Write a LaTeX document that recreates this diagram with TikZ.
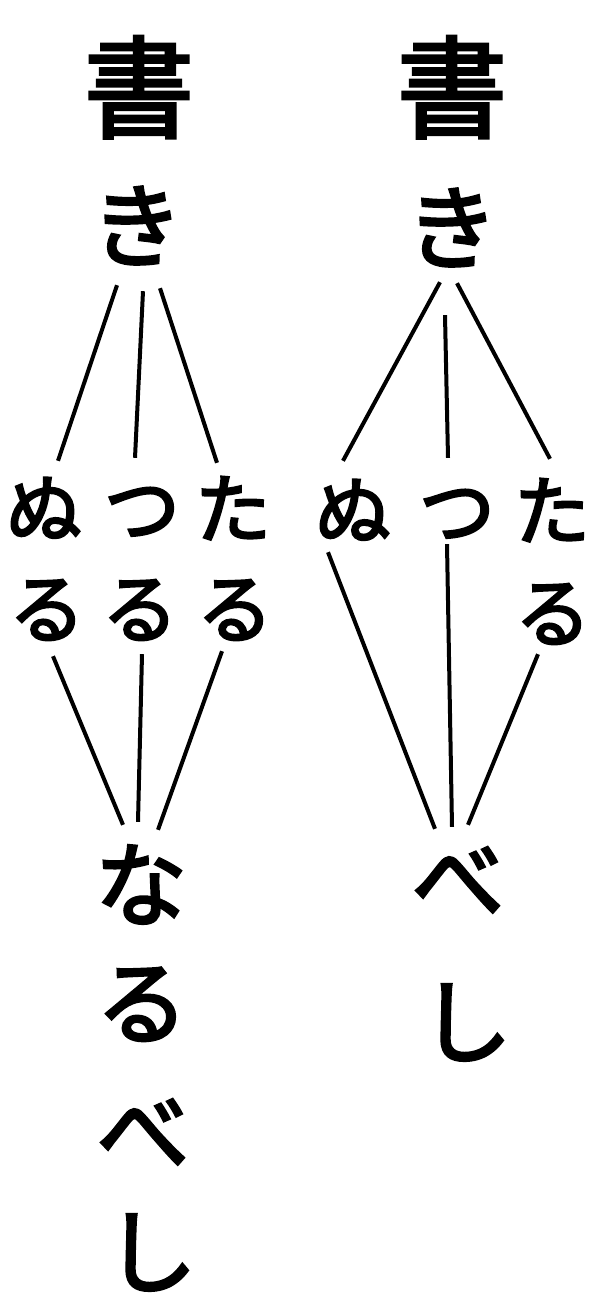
\documentclass[tikz,border=0pt]{standalone}
\usepackage{fontspec}
\newfontfamily\jpfont{Noto Sans CJK JP}

\begin{document}
\begin{tikzpicture}
	[
		x=1pt, y=-1pt,
		kanji/.style={font=\jpfont\addfontfeatures{FakeBold=3}\fontsize{110}{110}\selectfont, inner sep=0pt, text height=96pt, text depth=14pt},
		kana/.style={font=\jpfont\addfontfeatures{FakeBold=3}\fontsize{92}{92}\selectfont, inner sep=0pt, text height=80pt, text depth=12pt},
		branchkana/.style={font=\jpfont\addfontfeatures{FakeBold=3}\fontsize{76}{76}\selectfont, inner sep=0pt, text height=67pt, text depth=9pt},
		link/.style={line width=4pt}
	]
	\useasboundingbox (0,0) rectangle (606,1299);
	% Left column
	\node[kanji] (shoL) at (139,88) {書};
	\node[kana] (kiL) at (137,226) {き};
	\foreach \n/\x/\t in {nuL/44/ぬ, tsuL/142/つ, taL/233/た} {
			\node[branchkana] (\n) at (\x,508) {\t};
		}
	\foreach \n/\x in {ruLa/47, ruLb/140, ruLc/235} {
			\node[branchkana] (\n) at (\x,608) {る};
		}
	\node[kana] (naL) at (141,885) {な};
	\node[kana] (ruL) at (142,1003) {る};
	\node[kana] (beL) at (143,1132) {べ};
	\node[kana] (shiL) at (151,1252) {し};
	% Left links
	\draw[link] ([xshift=-20pt,yshift=-13pt]kiL.south) -- ([xshift=14pt,yshift=9pt]nuL.north);
	\draw[link] ([xshift=6pt,yshift=-19pt]kiL.south) -- ([xshift=-7pt,yshift=12pt]tsuL.north);
	\draw[link] ([xshift=23pt,yshift=-16pt]kiL.south) -- ([xshift=-16pt,yshift=7pt]taL.north);
	\draw[link] ([xshift=6pt,yshift=-10pt]ruLa.south) -- ([xshift=-18pt,yshift=14pt]naL.north);
	\draw[link] ([xshift=2pt,yshift=-8pt]ruLb.south) -- ([xshift=-3pt,yshift=17pt]naL.north);
	\draw[link] ([xshift=-13pt,yshift=-5pt]ruLc.south) -- ([xshift=17pt,yshift=9pt]naL.north);
	% Right column
	\node[kanji] (shoR) at (452,88) {書};
	\node[kana] (kiR) at (452,228) {き};
	\foreach \n/\x/\t in {nuR/353/ぬ, tsuR/457/つ, taR/552/た} {
			\node[branchkana] (\n) at (\x,510) {\t};
		}
	\node[branchkana] (ruR) at (553,612) {る};
	\node[kana] (beR) at (458,880) {べ};
	\node[kana] (shiR) at (466,1022) {し};
	% Right links
	\draw[link] ([xshift=-12pt,yshift=-8pt]kiR.south) -- ([xshift=-10pt,yshift=11pt]nuR.north);
	\draw[link] ([xshift=-7pt,yshift=-41pt]kiR.south) -- ([xshift=-9pt,yshift=14pt]tsuR.north);
	\draw[link] ([xshift=5pt,yshift=-9pt]kiR.south) -- ([xshift=-2pt,yshift=13pt]taR.north);
	\draw[link] ([xshift=-25pt,yshift=-4pt]nuR.south) -- ([xshift=-23pt,yshift=5pt]beR.north);
	\draw[link] ([xshift=-10pt,yshift=4pt]tsuR.south) -- ([xshift=-6pt,yshift=7pt]beR.north);
	\draw[link] ([xshift=-15pt,yshift=-4pt]ruR.south) -- ([xshift=10pt,yshift=9pt]beR.north);
\end{tikzpicture}
\end{document}
